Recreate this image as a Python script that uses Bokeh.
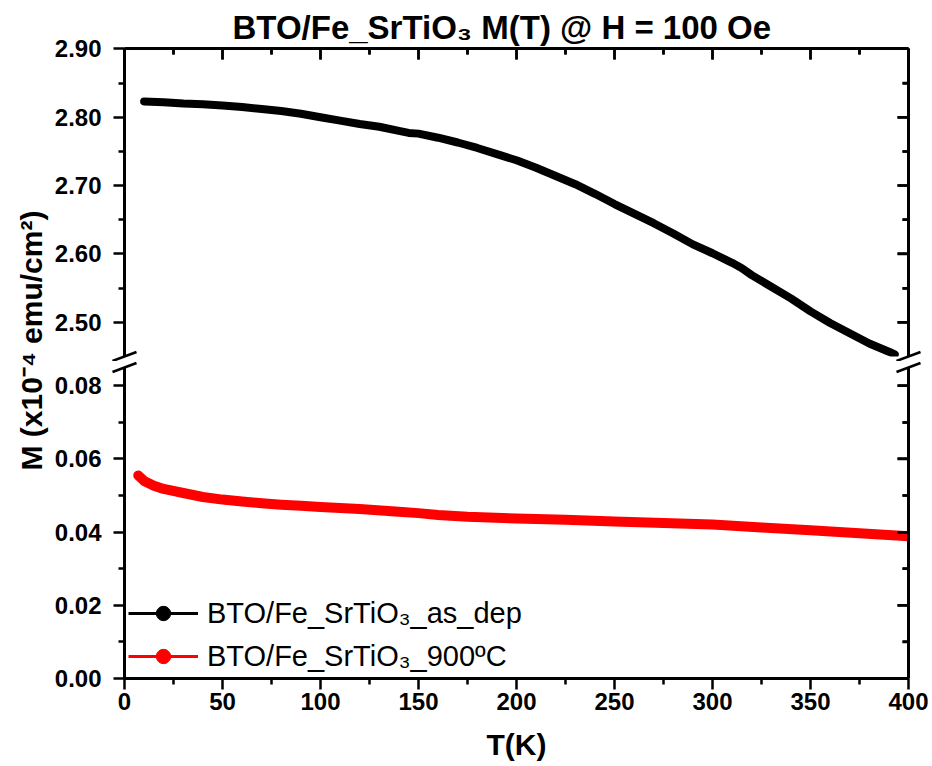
import math
import numpy as np
from bokeh.plotting import figure
from bokeh.layouts import row, column
from bokeh.models import (Range1d, LinearAxis, FixedTicker, NumeralTickFormatter,
                          PrintfTickFormatter, Legend, LegendItem, Label, ColumnDataSource)
from bokeh.embed import file_html
from bokeh.resources import INLINE

# ---------------- data ----------------
t_asdep = [10, 20, 30, 40, 50, 60, 70, 80, 90, 100, 110, 120, 130, 140, 145, 150, 160, 170,
           180, 190, 200, 210, 220, 230, 240, 250, 260, 270, 280, 290, 300, 310, 315, 320,
           330, 340, 350, 360, 370, 380, 390, 393]
m_asdep = [2.823, 2.822, 2.820, 2.819, 2.817, 2.815, 2.812, 2.809, 2.805, 2.800, 2.795, 2.790,
           2.786, 2.780, 2.777, 2.776, 2.770, 2.763, 2.755, 2.746, 2.737, 2.726, 2.714, 2.702,
           2.688, 2.673, 2.659, 2.645, 2.630, 2.614, 2.601, 2.587, 2.579, 2.569, 2.552, 2.535,
           2.516, 2.499, 2.484, 2.469, 2.457, 2.453]

t_900 = [7, 10, 15, 20, 30, 40, 50, 60, 70, 80, 90, 100, 120, 140, 150, 160, 175, 200, 225,
         250, 275, 300, 325, 350, 375, 400]
m_900 = [0.0555, 0.0540, 0.0527, 0.0518, 0.0507, 0.0496, 0.0489, 0.0484, 0.0479, 0.0475,
         0.0472, 0.0469, 0.0463, 0.0456, 0.0452, 0.0447, 0.0442, 0.0437, 0.0434, 0.0429,
         0.0425, 0.0421, 0.0413, 0.0405, 0.0397, 0.0389]

labels = ["BTO/Fe_SrTiO\u2083_as_dep", "BTO/Fe_SrTiO\u2083_900\u00baC"]
colors = ["#000000", "#ff0000"]
title_text = "BTO/Fe_SrTiO\u2083 M(T) @ H = 100 Oe"
x_label = "T(K)"
y_label = "M (x10\u207b\u2074 emu/cm\u00b2)"

x_ticks = [0, 50, 100, 150, 200, 250, 300, 350, 400]
x_minor = [25, 75, 125, 175, 225, 275, 325, 375]
up_ticks = [2.5, 2.6, 2.7, 2.8, 2.9]
up_minor = [2.55, 2.65, 2.75, 2.85]
lo_ticks = [0.0, 0.02, 0.04, 0.06, 0.08]
lo_minor = [0.01, 0.03, 0.05, 0.07]

x_lo, x_hi = 0, 400
up_lo, up_hi = 2.45, 2.9005
lo_lo, lo_hi = 0.0, 0.085

FONT = "Liberation Sans"
AXW = 3
TICKFS = "24px"
TICK_W = 2.5
MAJ_LEN, MIN_LEN = 11, 6

# layout (pixels)
LAB_W = 50
FIG_W = 882
B_LEFT, B_RIGHT = 74, 24
UP_H, UP_TOP, UP_BOT = 361, 48, 5
LO_H, LO_TOP, LO_BOT = 405, 6, 88

frame_w = FIG_W - B_LEFT - B_RIGHT
px_per_x = frame_w / (x_hi - x_lo)
px_per_up = (UP_H - UP_TOP - UP_BOT) / (up_hi - up_lo)
px_per_lo = (LO_H - LO_TOP - LO_BOT) / (lo_hi - lo_lo)

x_range = Range1d(x_lo, x_hi)


def style_axis(ax, labels_on, standoff=8):
    ax.axis_line_width = AXW
    ax.axis_line_color = "black"
    ax.major_tick_line_width = TICK_W
    ax.minor_tick_line_width = TICK_W
    ax.major_tick_line_color = "black"
    ax.minor_tick_line_color = "black"
    if labels_on:
        ax.major_tick_out = MAJ_LEN
        ax.major_tick_in = 0
        ax.minor_tick_out = MIN_LEN
        ax.minor_tick_in = 0
        ax.major_label_text_font = FONT
        ax.major_label_text_font_style = "bold"
        ax.major_label_text_font_size = TICKFS
        ax.major_label_text_color = "black"
        ax.major_label_standoff = standoff
    else:
        # frame line with inward ticks only
        ax.major_tick_out = 0
        ax.major_tick_in = MAJ_LEN
        ax.minor_tick_out = 0
        ax.minor_tick_in = MIN_LEN
        ax.formatter = PrintfTickFormatter(format="")
        ax.major_label_text_font_size = "1px"
        ax.major_label_standoff = 0


def seg(fig, x0, y0, x1, y1, level, width):
    src = ColumnDataSource(data=dict(
        x0=np.array(x0, dtype=float), y0=np.array(y0, dtype=float),
        x1=np.array(x1, dtype=float), y1=np.array(y1, dtype=float)))
    fig.segment(x0="x0", y0="y0", x1="x1", y1="y1", source=src,
                line_color="black", line_width=width, level=level)


def top_ticks(fig, xs, y_edge, px_per_y, length):
    d = length / px_per_y
    n = len(xs)
    seg(fig, list(xs), [y_edge] * n, list(xs), [y_edge - d] * n, "glyph", TICK_W)


def right_ticks(fig, ys, x_edge, length):
    d = length / px_per_x
    n = len(ys)
    seg(fig, [x_edge] * n, list(ys), [x_edge - d] * n, list(ys), "glyph", TICK_W)


def make_fig(height, top, bottom, y_lo, y_hi, **kw):
    f = figure(width=FIG_W, height=height, x_range=x_range, y_range=Range1d(y_lo, y_hi),
               output_backend="svg", toolbar_location=None,
               min_border_left=B_LEFT, min_border_right=B_RIGHT,
               min_border_top=top, min_border_bottom=bottom, **kw)
    f.outline_line_color = None
    f.grid.visible = False
    f.background_fill_color = None
    f.border_fill_color = None
    return f


# ---------------- upper panel ----------------
up = make_fig(UP_H, UP_TOP, UP_BOT, up_lo, up_hi, x_axis_location="above")

xt = up.xaxis[0]
xt.ticker = FixedTicker(ticks=list(x_ticks), minor_ticks=list(x_minor))
style_axis(xt, False)

yl = up.yaxis[0]
yl.ticker = FixedTicker(ticks=list(up_ticks), minor_ticks=list(up_minor))
yl.formatter = NumeralTickFormatter(format="0.00")
style_axis(yl, True, 12)

yr = LinearAxis(ticker=FixedTicker(ticks=list(up_ticks), minor_ticks=list(up_minor)))
style_axis(yr, False)
up.add_layout(yr, "right")

up.title.text = title_text
up.title.align = "left"
up.title.offset = 108
up.title.text_font = FONT
up.title.text_font_style = "bold"
up.title.text_font_size = "33px"
up.title.text_color = "black"
up.title.standoff = 5

top_ticks(up, x_ticks, up_hi, px_per_up, MAJ_LEN)
top_ticks(up, x_minor, up_hi, px_per_up, MIN_LEN)
right_ticks(up, up_ticks, x_hi, MAJ_LEN)
right_ticks(up, up_minor, x_hi, MIN_LEN)

# ---------------- lower panel ----------------
lo = make_fig(LO_H, LO_TOP, LO_BOT, lo_lo, lo_hi)

xb = lo.xaxis[0]
xb.ticker = FixedTicker(ticks=list(x_ticks), minor_ticks=list(x_minor))
style_axis(xb, True, 3)
xb.axis_label = x_label
xb.axis_label_text_font = FONT
xb.axis_label_text_font_style = "bold"
xb.axis_label_text_font_size = "30px"
xb.axis_label_text_color = "black"
xb.axis_label_standoff = 15

yl2 = lo.yaxis[0]
yl2.ticker = FixedTicker(ticks=list(lo_ticks), minor_ticks=list(lo_minor))
yl2.formatter = NumeralTickFormatter(format="0.00")
style_axis(yl2, True, 12)

yr2 = LinearAxis(ticker=FixedTicker(ticks=list(lo_ticks), minor_ticks=list(lo_minor)))
style_axis(yr2, False)
lo.add_layout(yr2, "right")

right_ticks(lo, lo_ticks, x_hi, MAJ_LEN)
right_ticks(lo, lo_minor, x_hi, MIN_LEN)

# ---------------- data renderers ----------------
for fig, tt, mm, col, bw in [(up, t_asdep, m_asdep, colors[0], 8),
                             (lo, t_900, m_900, colors[1], 10)]:
    fig.line(tt, mm, line_color=col, line_width=bw, line_cap="round", line_join="round")

# legend glyph renderers: live in the lower panel (the as_dep series lies outside
# its y range, so only its legend glyph shows; the 900C one is hidden under the band)
items = []
for tt, mm, col, lab in [(t_asdep, m_asdep, colors[0], labels[0]),
                         (t_900, m_900, colors[1], labels[1])]:
    ln = lo.line(list(tt), list(mm), line_color=col, line_width=3, level="underlay")
    sc = lo.scatter(list(tt), list(mm), marker="circle", fill_color=col, line_color=col,
                    size=2, level="underlay")
    items.append(LegendItem(label=lab, renderers=[ln, sc]))

leg = Legend(items=items, location=(4, 4), border_line_color=None,
             background_fill_alpha=0, padding=0, margin=0, spacing=7,
             glyph_width=70, glyph_height=36, label_height=36, label_standoff=9,
             label_text_font=FONT, label_text_font_size="29px", label_text_color="black")
lo.add_layout(leg)

# axis-break marks (drawn at overlay level so that they may cross the frame edge)
bdx = 12 / px_per_x
for fig, yv, ppy in [(up, up_lo, px_per_up), (lo, lo_hi, px_per_lo)]:
    bdy = 4.5 / ppy
    seg(fig, [x_lo - bdx, x_hi - bdx], [yv - bdy, yv - bdy],
        [x_lo + bdx, x_hi + bdx], [yv + bdy, yv + bdy], "overlay", 2.5)

# ---------------- y label panel ----------------
lab_fig = figure(width=LAB_W, height=UP_H + LO_H, x_range=Range1d(0, 1),
                 y_range=Range1d(0, 1), output_backend="svg", toolbar_location=None,
                 x_axis_location=None, y_axis_location=None, min_border=0)
lab_fig.grid.visible = False
lab_fig.outline_line_color = None
lab_fig.background_fill_color = None
lab_fig.border_fill_color = None
lab_fig.add_layout(Label(x=0.62, y=1 - 340 / (UP_H + LO_H), text=y_label,
                         angle=math.pi / 2, text_align="center", text_baseline="middle",
                         text_font=FONT, text_font_style="bold", text_font_size="30px",
                         text_color="black"))

layout = row(lab_fig, column(up, lo))
open("out.html", "w").write(file_html(layout, INLINE))
